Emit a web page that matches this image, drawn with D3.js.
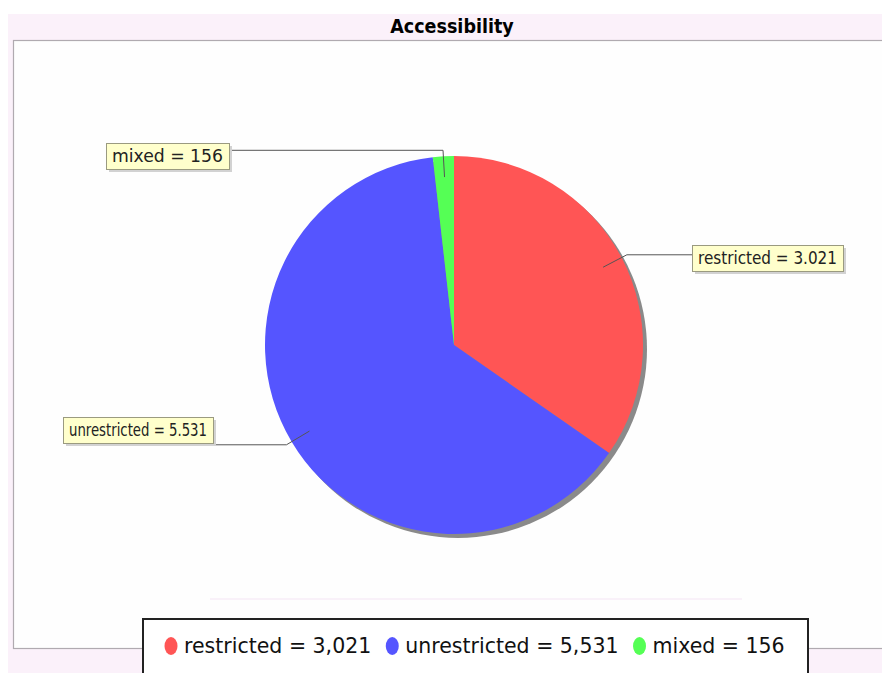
<!DOCTYPE html>
<html><head><meta charset="utf-8">
<script src="https://cdn.jsdelivr.net/npm/d3@7/dist/d3.min.js"></script>
<style>body{margin:0;background:#fff}svg{display:block}</style>
</head><body>
<script>
const title = "Accessibility";
const categories = ["restricted", "unrestricted", "mixed"];
const values = [3021, 5531, 156];
const colors = ["#ff5555", "#5555ff", "#55ff55"];

const W = 882, H = 673;
const svg = d3.select("body").append("svg").attr("width", W).attr("height", H);

const dotLocale = d3.formatLocale({decimal: ",", thousands: ".", grouping: [3], currency: ["", ""]});
const commaLocale = d3.formatLocale({decimal: ".", thousands: ",", grouping: [3], currency: ["", ""]});
const fmtLabel = dotLocale.format(",d");
const fmtLegend = commaLocale.format(",d");

// background
svg.append("rect").attr("x", 8).attr("y", 14).attr("width", W - 8).attr("height", H - 14).attr("fill", "#fbf1fa");
svg.append("text").attr("x", 452).attr("y", 33).attr("text-anchor", "middle")
  .attr("font-family", "DejaVu Sans Condensed, DejaVu Sans").attr("font-weight", "bold")
  .attr("font-size", 19.5).attr("fill", "#000").text(title);
svg.append("rect").attr("x", 13.5).attr("y", 40.5).attr("width", W).attr("height", 608)
  .attr("fill", "#fefefe").attr("stroke", "#b0aab0").attr("stroke-width", 1.2);
svg.append("rect").attr("x", 210).attr("y", 598).attr("width", 532).attr("height", 2).attr("fill", "#f9f1f9");

// pie
const cx = 454, cy = 345, R = 189;
const pie = d3.pie().sort(null).value(d => d)(values);
const arc = d3.arc().innerRadius(0).outerRadius(R);
const g = svg.append("g").attr("transform", `translate(${cx},${cy})`);
g.append("circle").attr("cx", 4).attr("cy", 4).attr("r", R).attr("fill", "#8a8a8a");
g.selectAll("path.slice").data(pie).join("path").attr("class", "slice")
  .attr("d", arc).attr("fill", (d, i) => colors[i]);

// labels
const labelLayout = [
  {side: 1, boxX: 692, boxY: 245, len: 139},
  {side: -1, boxX: 213, boxY: 417, len: 138},
  {side: -1, boxX: 229, boxY: 143, len: 111}
];
const pt = (a, r) => [cx + r * Math.sin(a), cy - r * Math.cos(a)];
pie.forEach((d, i) => {
  const mid = (d.startAngle + d.endAngle) / 2;
  const p0 = pt(mid, R * 0.89), p1 = pt(mid, R + 6);
  const L = labelLayout[i];
  const lgp = svg.append("g");
  const line = lgp.append("path");
  const shadow = lgp.append("rect");
  const box = lgp.append("rect");
  const text = `${categories[i]} = ${fmtLabel(values[i])}`;
  const t = lgp.append("text").attr("font-family", "DejaVu Sans Condensed, DejaVu Sans")
    .attr("font-size", 17).attr("fill", "#222")
    .attr("textLength", L.len).attr("lengthAdjust", "spacingAndGlyphs").text(text);
  const tw = L.len;
  const bw = tw + 12, bh = 26;
  const bx = L.side > 0 ? L.boxX : L.boxX - bw;
  const by = L.boxY;
  const lx = L.side > 0 ? bx : bx + bw;
  line.attr("d", `M${p0[0]},${p0[1]}L${p1[0]},${p1[1]}L${lx},${p1[1]}`)
    .attr("fill", "none").attr("stroke", "#555").attr("stroke-width", 1);
  shadow.attr("x", bx + 3).attr("y", by + 3).attr("width", bw).attr("height", bh).attr("fill", "#d2d2d2");
  box.attr("x", bx + 0.5).attr("y", by + 0.5).attr("width", bw).attr("height", bh)
    .attr("fill", "#ffffcc").attr("stroke", "#9a9a80").attr("stroke-width", 1);
  t.attr("x", bx + 6).attr("y", by + 19);
});

// legend
const lg = svg.append("g");
lg.append("rect").attr("x", 143).attr("y", 619).attr("width", 665).attr("height", 58)
  .attr("fill", "#fff").attr("stroke", "#222").attr("stroke-width", 2);
let x = 165;
categories.forEach((c, i) => {
  lg.append("ellipse").attr("cx", x + 6).attr("cy", 646).attr("rx", 6.5).attr("ry", 9).attr("fill", colors[i]);
  const t = lg.append("text").attr("x", x + 19).attr("y", 653).attr("font-family", "DejaVu Sans")
    .attr("font-size", 20.5).attr("fill", "#111").text(`${c} = ${fmtLegend(values[i])}`);
  x += 19 + t.node().getComputedTextLength() + 15;
});
</script>
</body></html>
